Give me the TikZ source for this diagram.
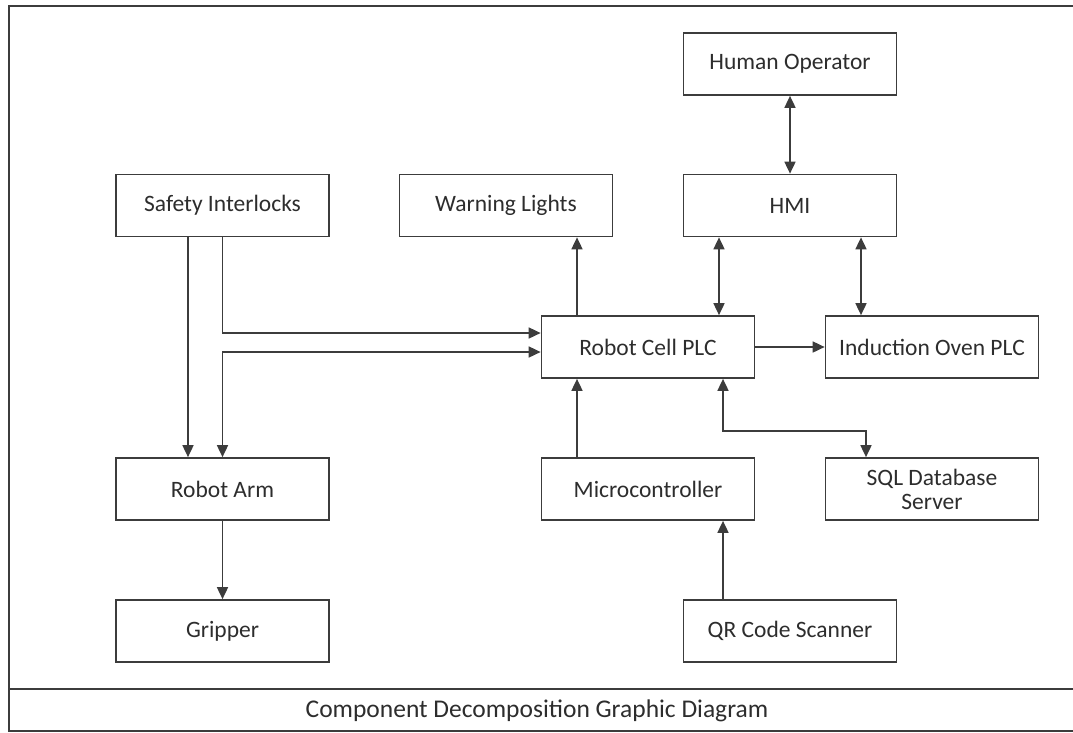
\documentclass[tikz,border=0pt]{standalone}
\usepackage{fontspec}
\setmainfont{Carlito}
\usepackage{tikz}
\usetikzlibrary{arrows.meta,positioning,calc}
\definecolor{cdedge}{RGB}{60,60,60}
\definecolor{cdink}{RGB}{45,45,45}
\tikzset{
  cdbox/.style={
    draw=cdedge, line width=1.7pt, fill=white,
    align=center, inner sep=2pt, font=\fontsize{23.5}{26}\selectfont,
    text=cdink, minimum width=213pt, minimum height=62pt
  },
  arr/.style={-{Triangle[length=12pt,width=11pt]}, draw=cdedge, line width=1.7pt},
  barr/.style={{Triangle[length=12pt,width=11pt]}-{Triangle[length=12pt,width=11pt]}, draw=cdedge, line width=1.7pt},
  frm/.style={draw=cdedge, line width=1.5pt},
  ttl/.style={font=\fontsize{25.5}{28}\selectfont, text=cdink},
  every picture/.append style={line join=miter}
}
\begin{document}
\begin{tikzpicture}[x=1pt, y=-1pt]
  \useasboundingbox (0,0) rectangle (1073,732);
  % frame and title bar
  \draw[frm] (9,6) rectangle (1090,731);
  \draw[frm] (9,689) -- (1090,689);
  \node[ttl] (title) at (537,711) {Component Decomposition Graphic Diagram};

  \node[cdbox] (human)  at (790,64)    {Human Operator};
  \node[cdbox] (safety) at (222.5,205.5) {Safety Interlocks};
  \node[cdbox] (warn)   at (506,205.5) {Warning Lights};
  \node[cdbox] (hmi)    at (790,205.5) {HMI};
  \node[cdbox] (plc)    at (648,347)   {Robot Cell PLC};
  \node[cdbox] (oven)   at (932,347)   {Induction Oven PLC};
  \node[cdbox] (arm)    at (222.5,489) {Robot Arm};
  \node[cdbox] (micro)  at (648,489)   {Microcontroller};
  \node[cdbox] (sql)    at (932,489)   {SQL Database\\[-2pt]Server};
  \node[cdbox] (grip)   at (222.5,631) {Gripper};
  \node[cdbox] (qr)     at (790,631)   {QR Code Scanner};

  \draw[barr] (human) -- (hmi);
  \draw[arr] ([xshift=-71pt]plc.north) -- ([xshift=-71pt]plc.north |- warn.south);
  \draw[barr] ([xshift=-71pt]hmi.south) -- ([xshift=-71pt]hmi.south |- plc.north);
  \draw[barr] ([xshift=71pt]hmi.south) -- ([xshift=71pt]hmi.south |- oven.north);
  \draw[arr] (plc) -- (oven);
  \draw[barr] ([xshift=75pt]plc.south) |- (866,431) -| (sql.north -| 866,0);
  \draw[arr] ([xshift=-71pt]micro.north) -- ([xshift=-71pt]micro.north |- plc.south);
  \draw[arr] ([xshift=-67pt]qr.north) -- ([xshift=-67pt]qr.north |- micro.south);
  \draw[arr] ([xshift=-34.5pt]safety.south) -- ([xshift=-34.5pt]safety.south |- arm.north);
  \draw[arr] (safety.south) |- ([yshift=14pt]plc.west);
  \draw[barr] ([yshift=-5pt]plc.west) -| (arm.north);
  \draw[arr] (arm) -- (grip);
\end{tikzpicture}
\end{document}
